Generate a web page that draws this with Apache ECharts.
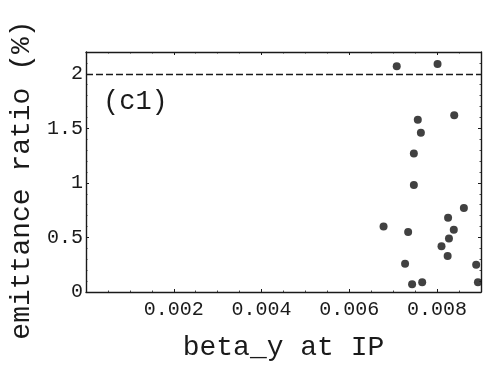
<!DOCTYPE html>
<html>
<head>
<meta charset="utf-8">
<script src="https://cdn.jsdelivr.net/npm/echarts@6/dist/echarts.min.js"></script>
<style>
  html, body { margin: 0; padding: 0; background: #fff; }
  #chart { width: 485px; height: 367px; }
</style>
</head>
<body>
<div id="chart"></div>
<script>
// beta_y at IP vs emittance ratio (%)
var betaY = [0.00708, 0.00801, 0.00839, 0.00756, 0.00763, 0.00747, 0.00747, 0.00861, 0.00825, 0.00678,
             0.00734, 0.00838, 0.00827, 0.00810, 0.00824, 0.00727, 0.00889, 0.00743, 0.00766, 0.00893];
var emitRatio = [2.07, 2.09, 1.62, 1.58, 1.46, 1.27, 0.98, 0.77, 0.68, 0.60,
                 0.55, 0.57, 0.49, 0.42, 0.33, 0.26, 0.25, 0.07, 0.09, 0.09];
var limitLevel = 2;
var xTickLabels = ['0.002', '0.004', '0.006', '0.008'];
var yTickLabels = ['0', '0.5', '1', '1.5', '2'];

var points = betaY.map(function (x, i) { return [x, emitRatio[i]]; });

var font = '"Liberation Mono", "DejaVu Sans Mono", monospace';
var ink = '#1a1a1a';

function xFmt(v) {
  var s = v.toFixed(3);
  return xTickLabels.indexOf(s) >= 0 ? s : '';
}
function yFmt(v) {
  var s = String(+v.toFixed(1));
  return yTickLabels.indexOf(s) >= 0 ? s : '';
}

function axisParts(minorSplit) {
  return {
    axisLine: { show: true, onZero: false, lineStyle: { color: ink, width: 1.4 } },
    axisTick: { show: true, inside: true, length: 3, lineStyle: { color: ink, width: 1 } },
    minorTick: { show: true, splitNumber: minorSplit, length: 1.5, lineStyle: { color: ink, width: 0.8 } },
    splitLine: { show: false }
  };
}

var chart = echarts.init(document.getElementById('chart'));
chart.setOption({
  animation: false,
  backgroundColor: '#fff',
  grid: { left: 85, right: 4, top: 52, bottom: 72 },
  xAxis: [
    Object.assign({
      type: 'value', min: 0, max: 0.009, interval: 0.002,
      name: 'beta_y at IP', nameLocation: 'middle', nameGap: 42,
      nameTextStyle: { fontFamily: font, fontSize: 28, color: ink },
      axisLabel: { formatter: xFmt, fontFamily: font, fontSize: 20, color: ink, margin: 8 }
    }, axisParts(4)),
    Object.assign({
      type: 'value', position: 'top', min: 0, max: 0.009, interval: 0.002,
      axisLabel: { show: false }
    }, axisParts(4))
  ],
  yAxis: [
    Object.assign({
      type: 'value', min: 0, max: 2.2, interval: 0.5,
      name: 'emittance ratio (%)', nameLocation: 'middle', nameGap: 50,
      nameTextStyle: { fontFamily: font, fontSize: 28, color: ink, padding: [0, 16, 0, 0] },
      axisLabel: { formatter: yFmt, fontFamily: font, fontSize: 20, color: ink, margin: 3 }
    }, axisParts(5)),
    Object.assign({
      type: 'value', position: 'right', min: 0, max: 2.2, interval: 0.5,
      axisLabel: { show: false }
    }, axisParts(5))
  ],
  graphic: [{
    type: 'text', left: 103, top: 88,
    style: { text: '(c1)', font: '27px ' + font, fill: ink }
  }],
  series: [{
    type: 'scatter',
    data: points,
    symbolSize: 8,
    itemStyle: { color: '#111' },
    markLine: {
      silent: true,
      symbol: 'none',
      label: { show: false },
      lineStyle: { color: ink, type: [7, 3], width: 1.3 },
      data: [{ yAxis: limitLevel }]
    }
  }]
});
</script>
</body>
</html>
